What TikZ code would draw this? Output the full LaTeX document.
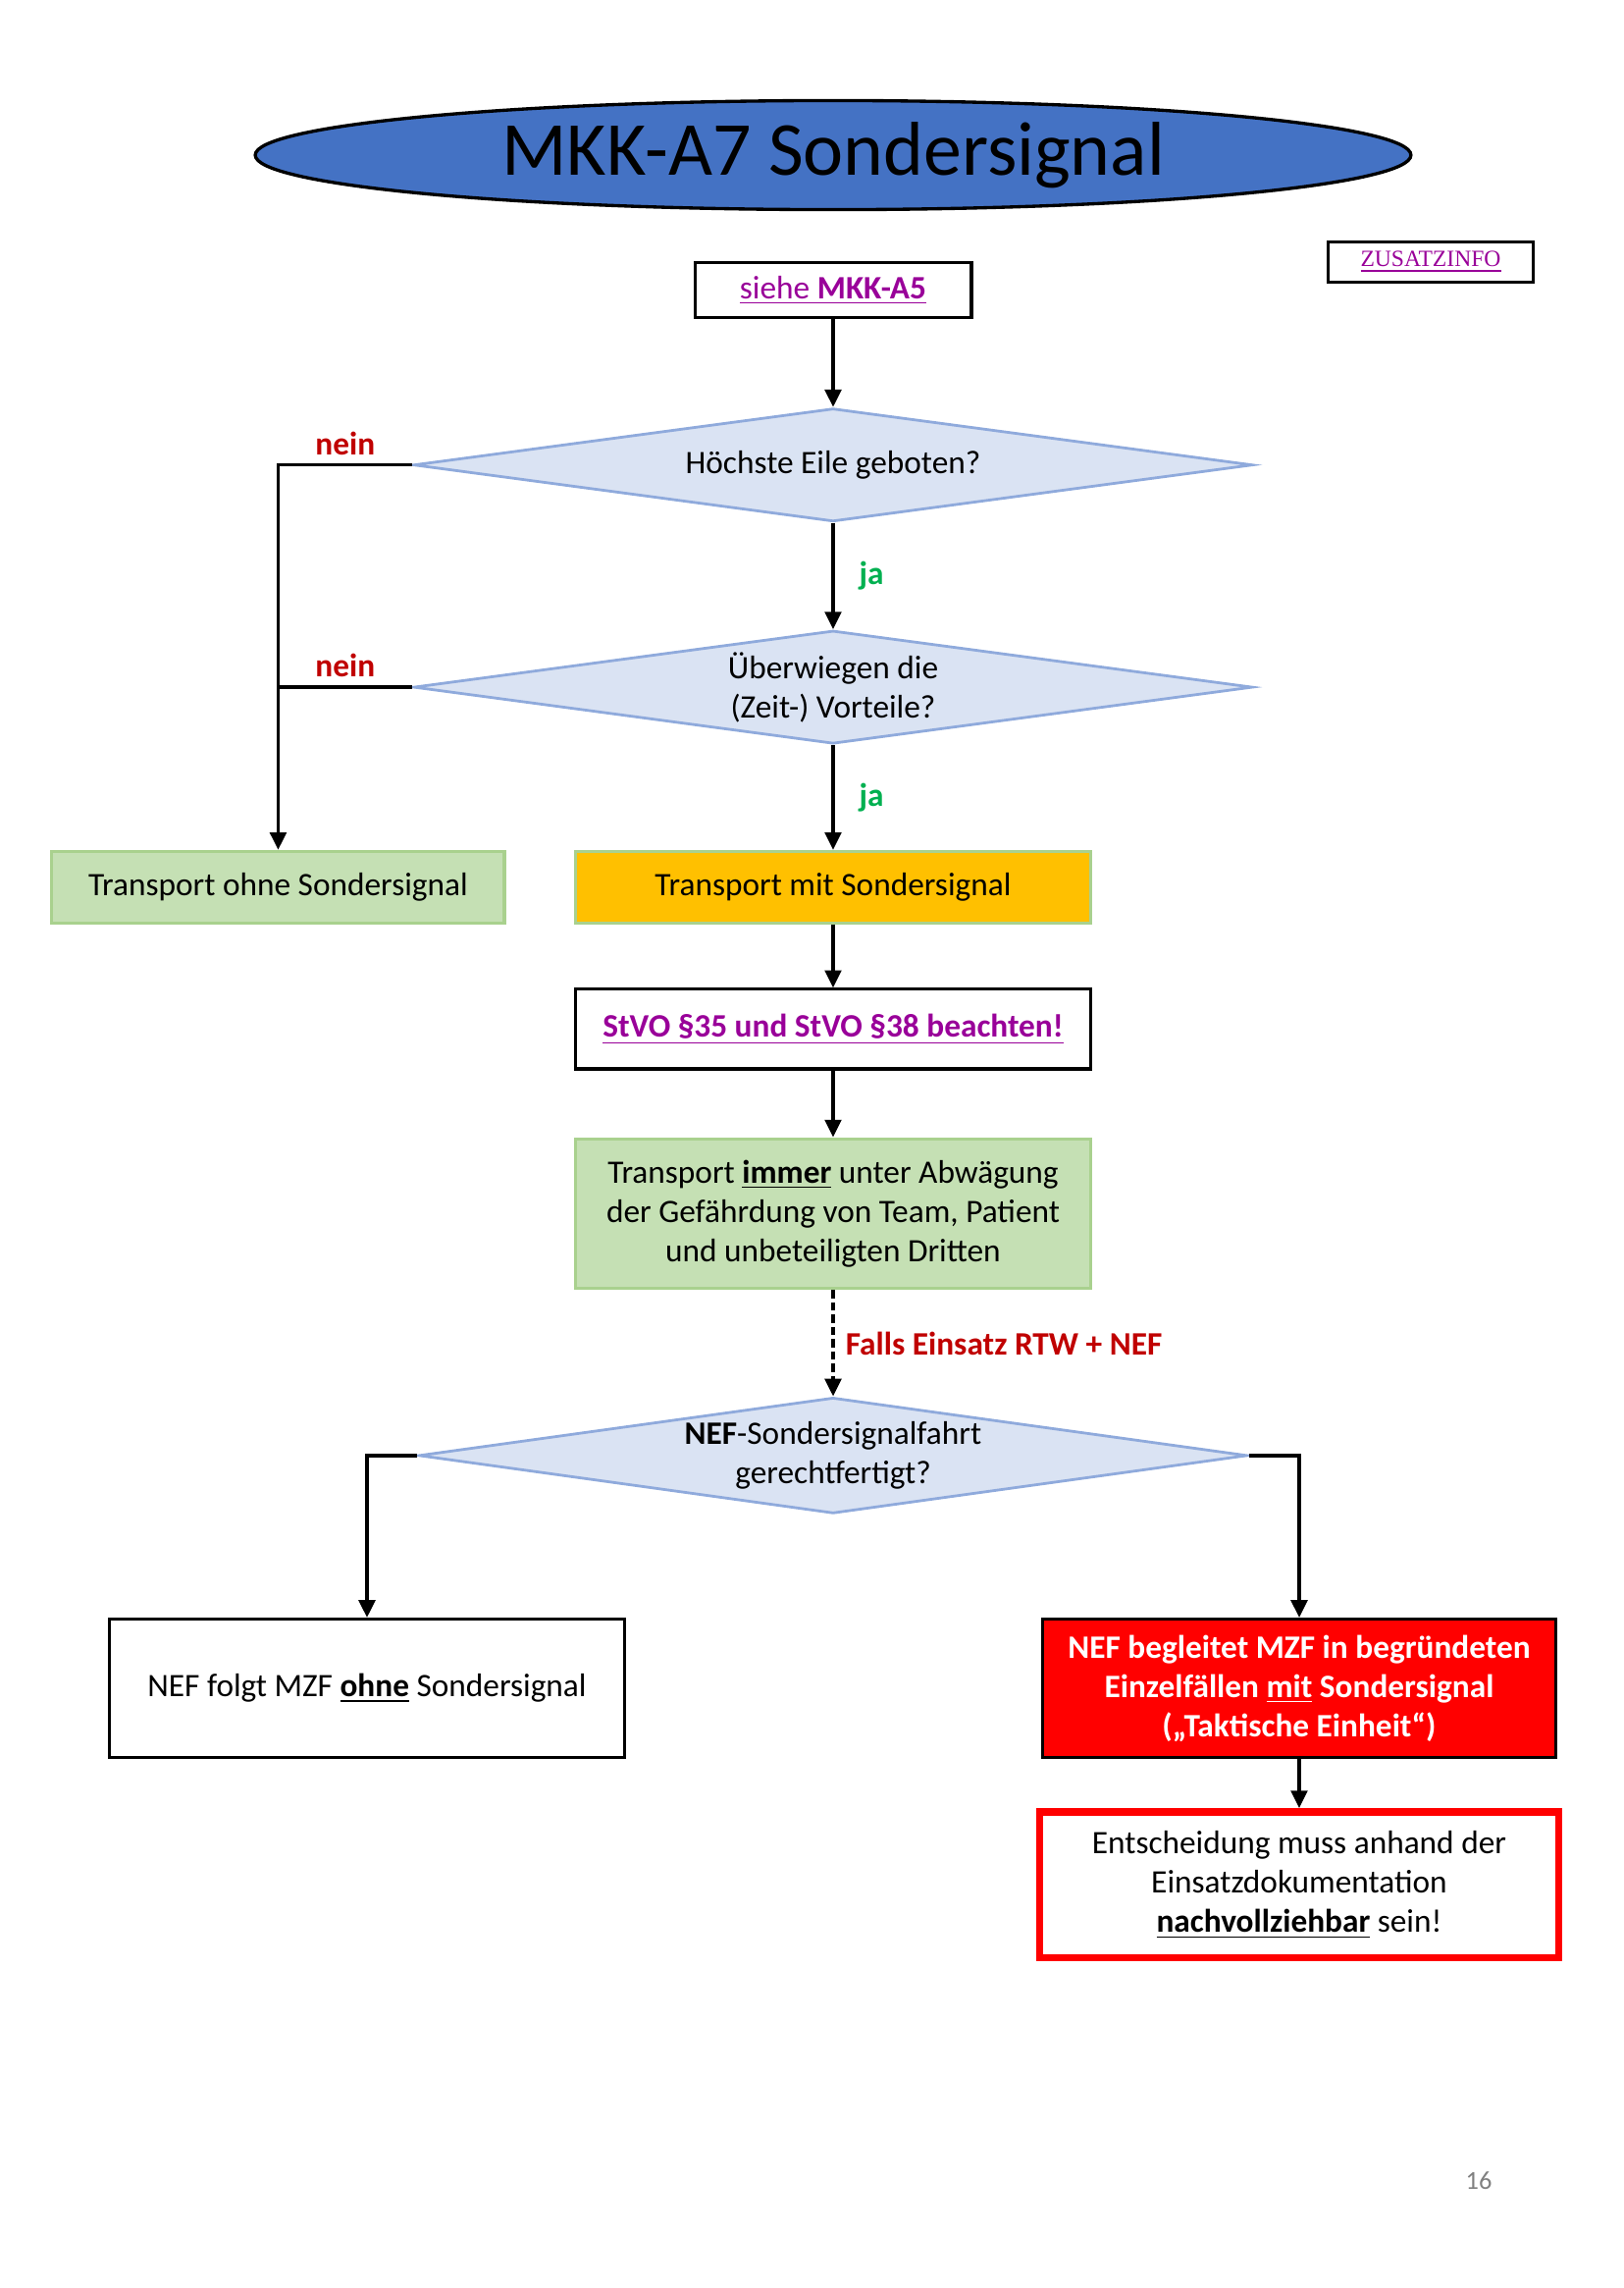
\documentclass[tikz,border=0pt]{standalone}
\usepackage{fontspec}
\setmainfont{Carlito}
\newfontfamily\timesschrift{Liberation Serif}
\usepackage{tikz}
\usetikzlibrary{arrows.meta, shapes.geometric, positioning}
\usepackage{xcolor}
\definecolor{titelblau}{HTML}{4472C4}
\definecolor{rautefuell}{HTML}{DAE3F3}
\definecolor{rauterand}{HTML}{8FAADC}
\definecolor{gruenfuell}{HTML}{C5E0B4}
\definecolor{gruenrand}{HTML}{A9D18E}
\definecolor{signalorange}{HTML}{FFC000}
\definecolor{linkviolett}{RGB}{153, 0, 153}
\definecolor{neinrot}{HTML}{C00000}
\definecolor{jagruen}{HTML}{00B050}
\definecolor{seitengrau}{RGB}{128, 128, 128}
\newcommand{\grundschrift}{\fontsize{12}{14.4}\selectfont}
\newcommand{\verweis}[1]{\textcolor{linkviolett}{\underline{#1}}}

\begin{document}
\begin{tikzpicture}[
          x=0.36pt, y=-0.36pt,
          font=\grundschrift,
          box/.style={draw=black, line width=1.1pt, align=center, inner sep=2pt,
                      minimum width=189pt},
          gruenbox/.style={box, draw=gruenrand, fill=gruenfuell},
          raute/.style={diamond, draw=rauterand, fill=rautefuell, line width=1pt,
                        inner sep=0pt, minimum width=307.8pt, minimum height=41.5pt},
          pfeil/.style={-{Triangle[length=6.4pt, width=6pt]}, line width=1.2pt},
          linie/.style={line width=1.3pt},
          nein/.style={font=\grundschrift\bfseries, text=neinrot, above, inner sep=3pt},
          ja/.style={font=\grundschrift\bfseries, text=jagruen, right, inner sep=9pt},
          falls/.style={font=\grundschrift\bfseries, text=neinrot, right, inner sep=4pt}
        ]
        \useasboundingbox (0,0) rectangle (1654,2331);
        % Kopf
        \node[ellipse, draw=black, line width=1.2pt, fill=titelblau, inner sep=0pt,
              minimum width=424pt, minimum height=40pt, font=\fontsize{28}{34}\selectfont]
              (titel) at (849,158) {MKK-A7 Sondersignal};
        \node[box, minimum width=101.5pt, minimum height=20pt, below=18.4pt of titel]
              (siehe) {\verweis{siehe \textbf{MKK-A5}}};
        \node[box, minimum width=75pt, minimum height=14.8pt, inner sep=1pt,
              font=\timesschrift\fontsize{8.5}{10}\selectfont]
              (zusatz) at (1458,267) {\verweis{ZUSATZINFO}};
        % Entscheidungen
        \node[raute, below=32.3pt of siehe, label=center:Höchste Eile geboten?] (eile) {};
        \node[raute, below=39pt of eile,
              label={[align=center]center:Überwiegen die\\(Zeit-) Vorteile?}] (vorteil) {};
        \node[box, draw=gruenrand, fill=signalorange, minimum height=26.3pt,
              below=38.4pt of vorteil] (mit) {Transport mit Sondersignal};
        \node[gruenbox, minimum width=166pt, minimum height=26.3pt, left=25pt of mit]
              (ohne) {Transport ohne Sondersignal};
        \node[box, minimum height=29.2pt, below=23.2pt of mit]
              (stvo) {\verweis{\textbf{StVO §35 und StVO §38 beachten!}}};
        \node[gruenbox, minimum height=55pt, below=24.5pt of stvo]
              (immer) {Transport \textbf{\underline{immer}} unter Abwägung\\der Gefährdung von Team, Patient\\und unbeteiligten Dritten};
        \node[raute, minimum width=304pt, minimum height=42.5pt, below=38.9pt of immer,
              label={[align=center]center:\textbf{NEF}-Sondersignalfahrt\\gerechtfertigt?}] (nef) {};
        % NEF
        \node[box, minimum height=50.8pt] (folgt) at (374,1720) {NEF folgt MZF \textbf{\underline{ohne}} Sondersignal};
        \node[box, fill=red, text=white, font=\grundschrift\bfseries, minimum width=188.6pt,
              minimum height=50.8pt] (begleitet) at (1324,1720)
              {NEF begleitet MZF in begründeten\\Einzelfällen \underline{mit} Sondersignal\\(„Taktische Einheit“)};
        \node[box, draw=red, line width=2.7pt, minimum width=190.4pt, minimum height=53.6pt,
              below=18pt of begleitet] (entsch)
              {Entscheidung muss anhand der\\Einsatzdokumentation\\\textbf{\underline{nachvollziehbar}} sein!};
        \node[text=seitengrau, font=\fontsize{9.5}{11}\selectfont] (seite) at (1507,2222) {16};
        % Verbindungen
        \draw[pfeil] (siehe) -- (eile);
        \draw[pfeil] (eile) -- node[ja]{ja} (vorteil);
        \draw[pfeil] (vorteil) -- node[ja]{ja} (mit);
        \draw[pfeil] (eile.west) -| node[nein, pos=0.25]{nein} (ohne.north);
        \draw[linie] (vorteil.west) -- node[nein]{nein} (vorteil.west -| ohne.north);
        \draw[pfeil] (mit) -- (stvo);
        \draw[pfeil] (stvo) -- (immer);
        \draw[pfeil, dash pattern=on 3pt off 1.5pt] (immer) -- node[falls]{Falls Einsatz RTW + NEF} (nef);
        \draw[pfeil] (nef.west) -| (folgt.north);
        \draw[pfeil] (nef.east) -| (begleitet.north);
        \draw[pfeil] (begleitet) -- (entsch);
      \end{tikzpicture}
\end{document}
